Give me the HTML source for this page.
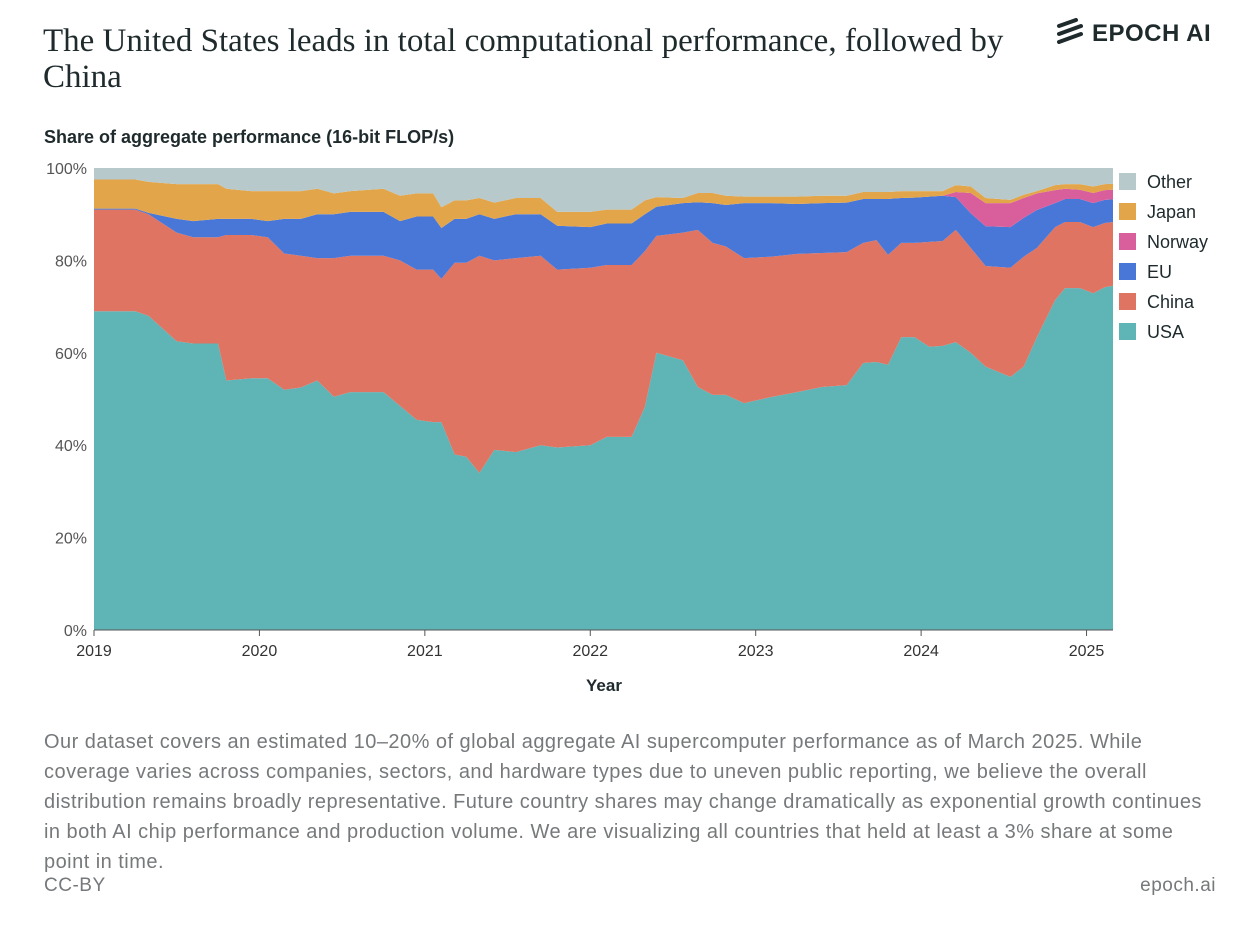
<!DOCTYPE html>
<html><head><meta charset="utf-8">
<style>
body{margin:0;width:1244px;height:946px;background:#fff;font-family:"Liberation Sans",sans-serif;color:#1f2a2e;position:relative;overflow:hidden}
.abs{position:absolute}
#title{left:43px;top:23px;font-family:"Liberation Serif",serif;font-size:33px;line-height:36px;color:#1e2a2c;width:990px}
#logo{left:1056px;top:18px;font-size:24px;font-weight:bold;letter-spacing:0.5px;color:#1e2a2c}
#sub{left:44px;top:127px;font-size:18px;font-weight:bold;color:#1e2a2c}
#note{left:44px;top:727px;font-size:20px;letter-spacing:0.47px;line-height:30px;color:#76797b;width:1162px}
#cc{left:44px;top:875px;font-size:19px;letter-spacing:0.5px;color:#76797b}
#ep{right:28px;top:875px;font-size:19px;letter-spacing:0.5px;color:#76797b}
</style></head><body>
<div id="title" class="abs">The United States leads in total computational performance, followed by China</div>
<div id="logo" class="abs"><svg width="28" height="26" style="vertical-align:-3px;margin-right:8px"><g stroke="#1e2a2c" stroke-width="4" stroke-linecap="round"><line x1="3" y1="8" x2="20" y2="2"/><line x1="3" y1="16" x2="25" y2="8"/><line x1="3" y1="24" x2="25" y2="16"/></g></svg>EPOCH AI</div>
<div id="sub" class="abs">Share of aggregate performance (16-bit FLOP/s)</div>
<svg id="chart" class="abs" style="left:0;top:150px" width="1244" height="560"></svg>
<div id="note" class="abs">Our dataset covers an estimated 10–20% of global aggregate AI supercomputer performance as of March 2025. While coverage varies across companies, sectors, and hardware types due to uneven public reporting, we believe the overall distribution remains broadly representative. Future country shares may change dramatically as exponential growth continues in both AI chip performance and production volume. We are visualizing all countries that held at least a 3% share at some point in time.</div>
<div id="cc" class="abs">CC-BY</div>
<div id="ep" class="abs">epoch.ai</div>
<script>
const years=[2019.00,2019.25,2019.33,2019.50,2019.60,2019.75,2019.80,2019.95,2020.05,2020.15,2020.25,2020.35,2020.45,2020.55,2020.75,2020.85,2020.95,2021.05,2021.10,2021.18,2021.25,2021.33,2021.42,2021.55,2021.70,2021.80,2022.00,2022.10,2022.25,2022.33,2022.40,2022.56,2022.65,2022.74,2022.82,2022.93,2023.09,2023.25,2023.40,2023.55,2023.65,2023.73,2023.80,2023.88,2023.96,2024.05,2024.13,2024.21,2024.30,2024.39,2024.54,2024.62,2024.70,2024.81,2024.87,2024.96,2025.04,2025.11,2025.16];
const usa=[69,69,68,62.5,62,62,54,54.5,54.5,52,52.5,54,50.5,51.5,51.5,48.5,45.5,45,45,38,37.5,34,39,38.5,40,39.5,40,41.8,41.8,48.3,60,58.4,52.6,50.9,50.9,49.1,50.4,51.5,52.6,53,57.8,58,57.4,63.4,63.4,61.3,61.5,62.3,60,57,54.8,57,63.4,71.4,74,74,72.9,74.2,74.5];
const china=[22,22,22,23.5,23,23,31.5,31,30.5,29.5,28.5,26.5,30,29.5,29.5,31.5,32.5,33,31,41.5,42,47,41,42,41,38.5,38.4,37.2,37.2,33.7,25.3,27.6,34,32.9,32.1,31.4,30.4,29.9,29,28.8,26,26.4,23.8,20.4,20.4,22.7,22.7,24.3,22.7,21.8,23.6,23.8,19.3,15.8,14.3,14.3,14.3,13.9,13.8];
const eu=[0.2,0.2,0.3,3,3.5,4,3.5,3.5,3.5,7.5,8,9.5,9.5,9.5,9.5,8.5,11.5,11.5,11,9.5,9.5,9,9,9.5,9,9.5,8.8,9,9,8,6.3,6.4,6,8.6,9,11.9,11.6,10.8,10.8,10.7,9.5,8.9,12.1,9.7,9.8,9.8,9.8,7.1,7.5,8.6,8.8,8.4,8.2,5.2,5,5,5.2,5,4.9];
const norway=[0,0,0,0,0,0,0,0,0,0,0,0,0,0,0,0,0,0,0,0,0,0,0,0,0,0,0,0,0,0,0,0,0,0,0,0,0,0,0,0,0,0,0,0,0,0,0,1.1,4.4,5,5.2,4.3,3.6,2.8,2.2,2,2.2,2.1,2.1];
const japan=[6.3,6.3,6.7,7.5,8,7.5,6.5,6,6.5,6,6,5.5,4.5,4.5,5,5.5,5,5,4.5,4,4,3.5,3.5,3.5,3.5,3,3.3,3,3,3,2.1,1.1,2,2.2,2,1.4,1.4,1.6,1.6,1.5,1.5,1.5,1.5,1.5,1.4,1.2,1,1.5,1.4,1.1,0.7,0.7,0.5,1.1,1,1.2,1.4,1.3,1.3];
const seriesNames=["USA","China","EU","Norway","Japan","Other"];
const yTicks=[0,20,40,60,80,100];
const xTicks=[2019,2020,2021,2022,2023,2024,2025];

const colors=["#5fb4b6","#df7462","#4877d8","#d95f9c","#e3a54a","#b7c9ca"];
const svg=document.getElementById('chart');
const NS="http://www.w3.org/2000/svg";
const X0=94,X1=1113,Y0=480,Y1=18;
const xs=t=>X0+(t-2019)/(2025.16-2019)*(X1-X0);
const ys=v=>Y0-v/100*(Y0-Y1);
const other=years.map((_,i)=>100-usa[i]-china[i]-eu[i]-norway[i]-japan[i]);
const series=[usa,china,eu,norway,japan,other];
let base=years.map(()=>0);
series.forEach((s,k)=>{
  const top=base.map((b,i)=>b+s[i]);
  let d="M"+years.map((t,i)=>xs(t)+","+ys(top[i])).join("L");
  for(let i=years.length-1;i>=0;i--) d+="L"+xs(years[i])+","+ys(base[i]);
  d+="Z";
  const p=document.createElementNS(NS,'path');
  p.setAttribute('d',d);p.setAttribute('fill',colors[k]);
  
  
  svg.appendChild(p);
  base=top;
});
yTicks.forEach(v=>{
  const t=document.createElementNS(NS,'text');
  t.setAttribute('x',87);t.setAttribute('y',ys(v)+6);t.setAttribute('text-anchor','end');
  t.setAttribute('font-size','16');t.setAttribute('fill','#555');t.textContent=v+"%";
  
  
  svg.appendChild(t);
});
xTicks.forEach(v=>{
  const l=document.createElementNS(NS,'line');
  l.setAttribute('x1',xs(v));l.setAttribute('x2',xs(v));l.setAttribute('y1',Y0);l.setAttribute('y2',Y0+6);
  l.setAttribute('stroke','#555');
  
  
  svg.appendChild(l);
  const t=document.createElementNS(NS,'text');
  t.setAttribute('x',xs(v));t.setAttribute('y',Y0+26);t.setAttribute('text-anchor','middle');
  t.setAttribute('font-size','16');t.setAttribute('fill','#333');t.textContent=v;
  
  
  svg.appendChild(t);
});
const xl=document.createElementNS(NS,'line');
xl.setAttribute('x1',X0);xl.setAttribute('x2',X1);xl.setAttribute('y1',Y0);xl.setAttribute('y2',Y0);xl.setAttribute('stroke','#555');


svg.appendChild(xl);
const xt=document.createElementNS(NS,'text');
xt.setAttribute('x',604);xt.setAttribute('y',541);xt.setAttribute('text-anchor','middle');
xt.setAttribute('font-size','17');xt.setAttribute('font-weight','bold');xt.setAttribute('fill','#1e2a2c');xt.textContent="Year";


svg.appendChild(xt);
for(let k=5;k>=0;k--){
  const j=5-k, y=31+j*30;
  const g=document.createElementNS(NS,'g');
  
  
  const r=document.createElementNS(NS,'rect');
  r.setAttribute('x',1119);r.setAttribute('y',y-8);r.setAttribute('width',17);r.setAttribute('height',17);r.setAttribute('fill',colors[k]);
  g.appendChild(r);
  const t=document.createElementNS(NS,'text');
  t.setAttribute('x',1147);t.setAttribute('y',y+7);t.setAttribute('font-size','18');t.setAttribute('fill','#1e2a2c');t.textContent=seriesNames[k];
  g.appendChild(t);
  svg.appendChild(g);
}
</script>
</body></html>
